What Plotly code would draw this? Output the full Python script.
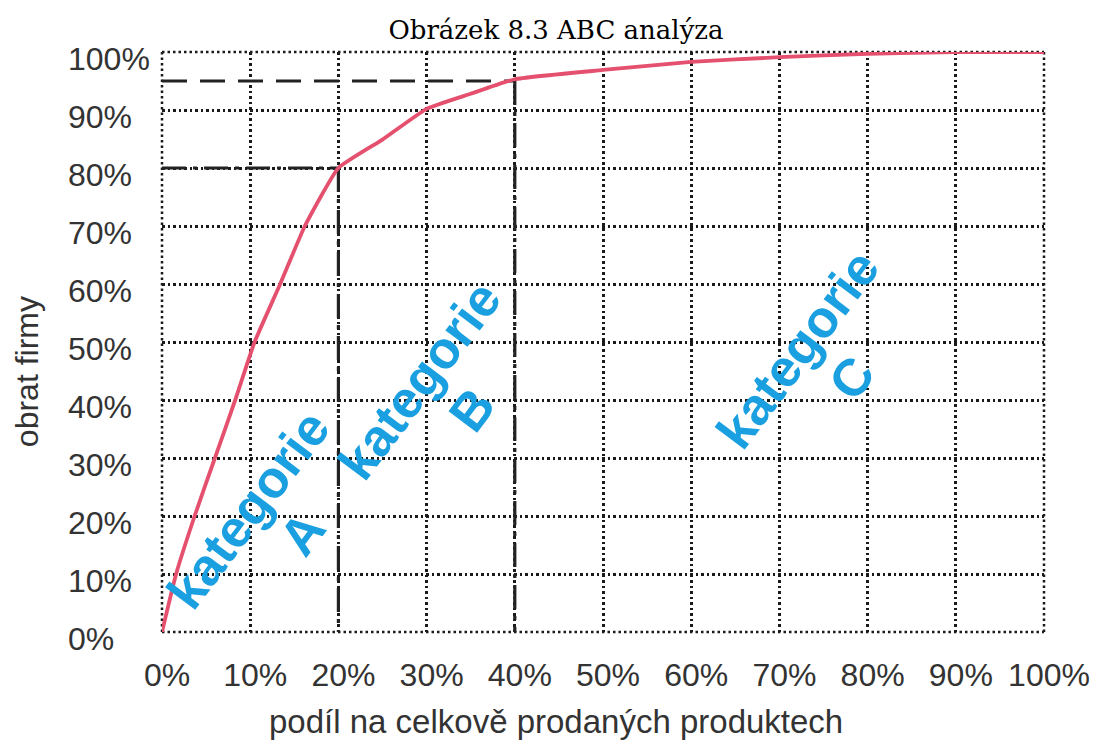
import plotly.graph_objects as go

# cumulative share of products (%) vs cumulative share of turnover (%)
podil_produktu = [0, 1.6, 3.7, 6.0, 8.3, 10.5, 13.4, 16.2, 20, 25, 30, 35, 40, 50, 60, 70, 80, 90, 100]
obrat = [0, 10, 20, 30, 40, 50, 60, 70, 80, 84.9, 90.2, 92.8, 95.3, 96.9, 98.3, 99.1, 99.7, 100, 100]

# category boundaries
hranice_a = (20, 80)
hranice_b = (40, 95)

tick_vals = list(range(0, 101, 10))
tick_text = [f"{v}%" for v in tick_vals]

# category labels: word "kategorie" and the letter, placed separately
slovo_x = [9.75, 29.25, 72.1]
slovo_y = [21.0, 43.4, 48.8]
pismena = ["A", "B", "C"]
pismeno_x = [15.9, 35.1, 78.2]
pismeno_y = [17.1, 38.3, 43.8]

DARK = "#222222"
DASHDOT = "24px,7px,4px,7px"
DASH = "25px,13px"
GRID = "#1a1a1a"
GRID_DASH = "2.5px,3px"
SANS = "Liberation Sans, Arial"
LABEL_BLUE = "#1aa0e0"
TEXT_GREY = "#333333"

W, H = 1112, 746
M_L, M_R, M_T, M_B = 60, 68, 52, 114
PLOT_LEFT = 162  # left edge of the grid, in pixels
paper_w = W - M_L - M_R
x_dom0 = (PLOT_LEFT - M_L) / paper_w

fig = go.Figure()

# reference lines for category A
fig.add_trace(go.Scatter(x=[0, hranice_a[0]], y=[hranice_a[1], hranice_a[1]], mode="lines",
                         line=dict(color=DARK, width=3.2, dash=DASHDOT), hoverinfo="skip"))
fig.add_trace(go.Scatter(x=[hranice_a[0], hranice_a[0]], y=[hranice_a[1], 0], mode="lines",
                         line=dict(color=DARK, width=3.2, dash=DASHDOT), hoverinfo="skip"))
# reference lines for category B
fig.add_trace(go.Scatter(x=[0, hranice_b[0]], y=[hranice_b[1], hranice_b[1]], mode="lines",
                         line=dict(color=DARK, width=3.2, dash=DASH), hoverinfo="skip"))
fig.add_trace(go.Scatter(x=[hranice_b[0], hranice_b[0]], y=[hranice_b[1], 0], mode="lines",
                         line=dict(color=DARK, width=3.2, dash=DASHDOT), hoverinfo="skip"))

# ABC curve
fig.add_trace(go.Scatter(x=podil_produktu, y=obrat, mode="lines",
                         line=dict(color="#e4506e", width=3.8, shape="spline", smoothing=0.4)))

# invisible trace that carries the left-aligned percentage axis
fig.add_trace(go.Scatter(x=[0, 100], y=[0, 100], yaxis="y2", mode="lines",
                         line=dict(width=0), hoverinfo="skip", showlegend=False))

label_font = dict(family=SANS, size=52, color=LABEL_BLUE, weight="bold")
for x, y in zip(slovo_x, slovo_y):
    fig.add_annotation(x=x, y=y, text="kategorie", showarrow=False, textangle=-53,
                       font=label_font)
for txt, x, y in zip(pismena, pismeno_x, pismeno_y):
    fig.add_annotation(x=x, y=y, text=txt, showarrow=False, textangle=-53,
                       font=label_font)

# dotted frame of the plotting area
for edge in (0, 1):
    fig.add_shape(type="line", xref="x domain", yref="y domain", x0=edge, x1=edge, y0=0, y1=1,
                  line=dict(color=GRID, width=2.5, dash=GRID_DASH), layer="below")
    fig.add_shape(type="line", xref="x domain", yref="y domain", x0=0, x1=1, y0=edge, y1=edge,
                  line=dict(color=GRID, width=2.5, dash=GRID_DASH), layer="below")

fig.add_annotation(xref="paper", yref="paper", x=(27 - M_L) / paper_w, y=0.448, text="obrat firmy",
                   showarrow=False, textangle=-90, xanchor="center", yanchor="middle",
                   font=dict(family=SANS, size=32, color=TEXT_GREY))
fig.add_annotation(xref="paper", yref="paper", x=(W / 2 - M_L) / paper_w, y=-0.155,
                   text="podíl na celkově prodaných produktech",
                   showarrow=False, xanchor="center", yanchor="middle",
                   font=dict(family=SANS, size=33, color=TEXT_GREY))

tick_font = dict(family=SANS, size=32, color=TEXT_GREY)

fig.update_layout(
    width=W, height=H,
    margin=dict(l=M_L, r=M_R, t=M_T, b=M_B),
    paper_bgcolor="white", plot_bgcolor="white",
    showlegend=False,
    title=dict(text="Obrázek 8.3 ABC analýza", x=0.5, xanchor="center", y=0.96, yanchor="middle",
               font=dict(family="DejaVu Serif", size=26, color="black")),
    xaxis=dict(domain=[x_dom0, 1], range=[0, 100], tickvals=tick_vals, ticktext=tick_text,
               showgrid=True, gridcolor=GRID, gridwidth=2.5, griddash=GRID_DASH,
               zeroline=False, showline=False, ticks="", tickfont=tick_font,
               ticklabelstandoff=21, ticklabelshift=5),
    yaxis=dict(range=[0, 100], tickvals=tick_vals, showticklabels=False,
               showgrid=True, gridcolor=GRID, gridwidth=2.5, griddash=GRID_DASH,
               zeroline=False, showline=False, ticks=""),
    yaxis2=dict(overlaying="y", matches="y", anchor="free", position=0, side="left",
                range=[0, 100], tickvals=tick_vals, ticktext=tick_text,
                ticklabelposition="inside", ticklabeloverflow="allow",
                ticklabelstandoff=4, ticklabelshift=7,
                showgrid=False, zeroline=False, showline=False, ticks="", tickfont=tick_font),
)

fig.write_html("out.html")
